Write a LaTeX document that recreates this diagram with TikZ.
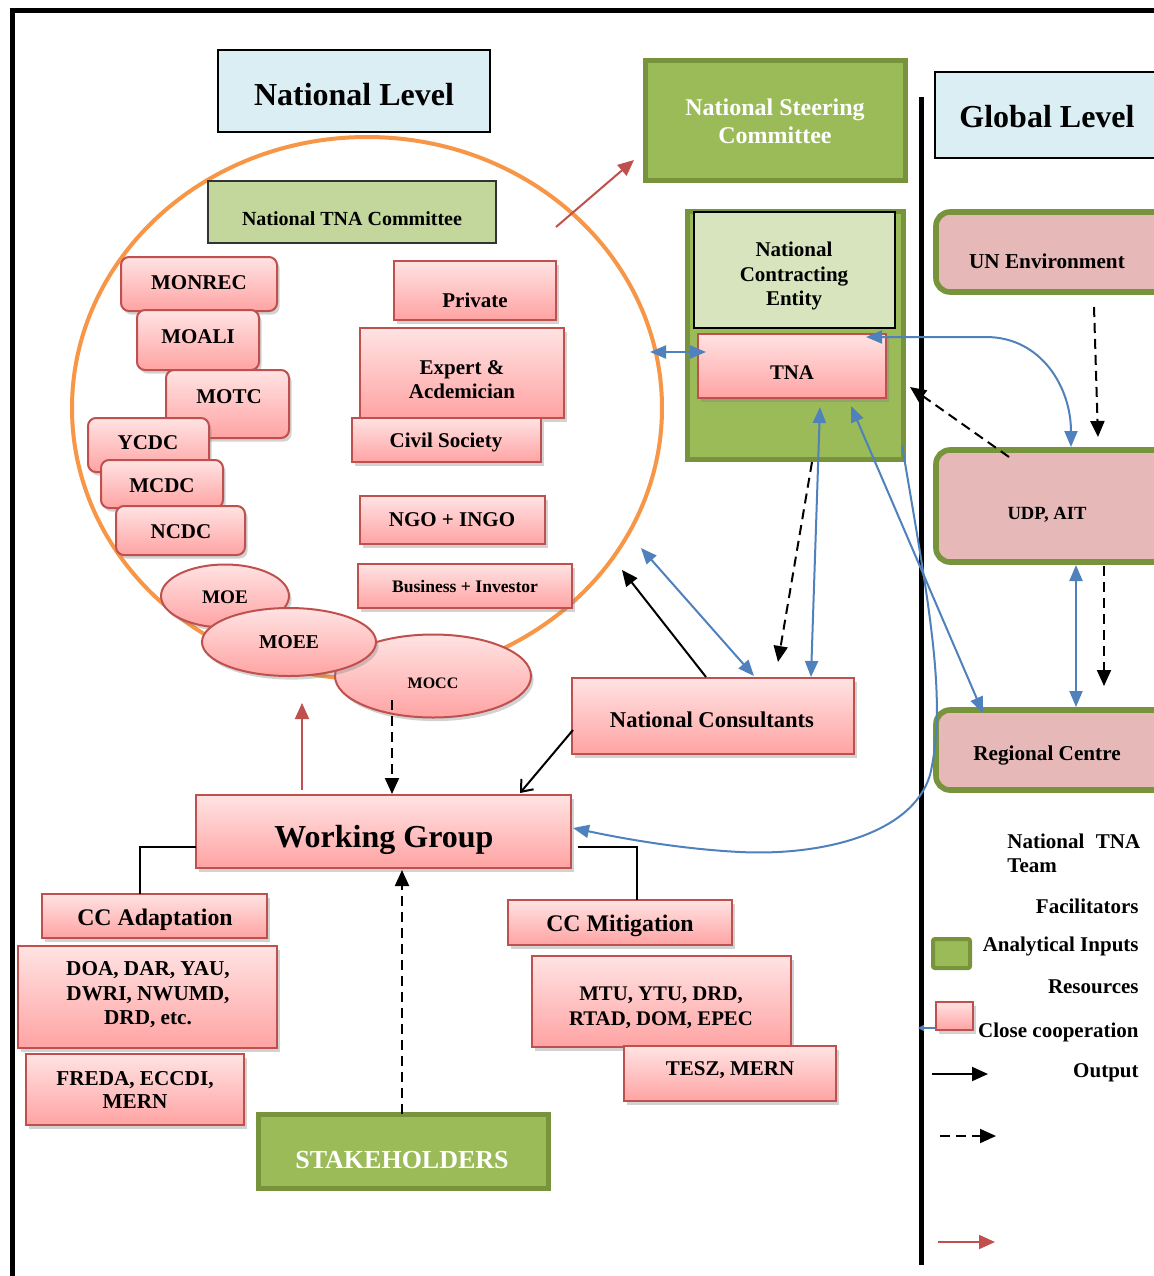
\documentclass[tikz,border=0pt]{standalone}
\usepackage{fontspec}
\setmainfont{Liberation Serif}
\usetikzlibrary{arrows.meta,shapes.geometric,shadows,calc}
\definecolor{pinktop}{HTML}{FFE3E3}
\definecolor{pinkbot}{HTML}{FFA3A3}
\definecolor{pinkline}{HTML}{C0504D}
\definecolor{grfill}{HTML}{9BBB59}
\definecolor{grline}{HTML}{77933C}
\definecolor{grlight}{HTML}{C3D69B}
\definecolor{grpale}{HTML}{D7E4BD}
\definecolor{lblue}{HTML}{DAEEF3}
\definecolor{rosefill}{HTML}{E6B9B8}
\definecolor{orng}{HTML}{F79646}
\definecolor{bluel}{HTML}{4F81BD}
\definecolor{redar}{HTML}{C0504D}
\newcommand\myfs[2]{\fontsize{#1}{#2}\selectfont\bfseries}
\tikzset{
  box/.style={rectangle, inner sep=0pt, outer sep=0pt},
  pinkbox/.style={box, draw=pinkline, line width=1pt, top color=pinktop, bottom color=pinkbot,
    drop shadow={shadow xshift=1.3pt, shadow yshift=-1.8pt, opacity=0.35}},
  pinkround/.style={pinkbox, rounded corners=4pt},
  pinkell/.style={ellipse, inner sep=0pt, outer sep=0pt, draw=pinkline, line width=1pt,
    top color=pinktop, bottom color=pinkbot,
    drop shadow={shadow xshift=1.3pt, shadow yshift=-1.8pt, opacity=0.35}},
  greenbox/.style={box, draw=grline, line width=2.5pt, fill=grfill},
  rosebox/.style={box, draw=grline, line width=2.8pt, fill=rosefill, rounded corners=7pt},
  txt/.style={inner sep=0pt, align=center},
  bluedbl/.style={bluel, line width=1pt, {Triangle[length=8pt,width=6.5pt]}-{Triangle[length=8pt,width=6.5pt]}},
  bluesgl/.style={bluel, line width=1pt, -{Triangle[length=8pt,width=6.5pt]}},
  blackarr/.style={black, line width=1pt, -{Triangle[length=8pt,width=7pt]}},
  dasharr/.style={black, line width=1pt, dash pattern=on 5pt off 3pt, -{Triangle[length=8pt,width=7pt]}},
  redarr/.style={redar, line width=1pt, -{Triangle[length=8pt,width=7pt]}},
}
\begin{document}
\begin{tikzpicture}[x=0.5pt,y=-0.5pt]
\clip (0,0) rectangle (1154,1276);
\fill[white] (0,0) rectangle (1154,1276);
% frame and divider
\draw[line width=2.5pt] (12,1290) -- (12,10) -- (1170,10);
\draw[line width=2.5pt] (921,97) -- (921,1265);

% level titles
\node[box, draw=black, line width=0.6pt, fill=lblue, minimum width=136pt, minimum height=41pt] (natlevel) at (354,91) {};
\node[txt, font=\myfs{16}{19}] (natlevel-t) at (354,95) {National Level};
\node[box, draw=black, line width=0.6pt, fill=lblue, minimum width=117.5pt, minimum height=43pt] (globlevel) at (1052.5,115) {};
\node[txt, font=\myfs{16}{19}] (globlevel-t) at (1047,117) {Global Level};

% steering committee
\node[greenbox, minimum width=130pt, minimum height=60pt] (nsc) at (775,120) {};
\node[txt, text=white, font=\myfs{12}{14}] (nsc-t) at (775,121) {National Steering\\Committee};

% circle
\node[ellipse, draw=orng, line width=2pt, inner sep=0pt, outer sep=0pt, minimum width=295pt, minimum height=271pt] (circ) at (367,408) {};

\node[box, draw=black!80, line width=0.8pt, fill=grlight, minimum width=144pt, minimum height=31pt] (tnacom) at (352,212) {};
\node[txt, font=\myfs{10}{12}] (tnacom-t) at (352,219) {National TNA Committee};

% left rounded boxes
\node[pinkround, minimum width=78pt, minimum height=27pt] (monrec) at (199,284) {};
\node[txt, font=\myfs{10.5}{12}] (monrec-t) at (199,283) {MONREC};
\node[pinkround, minimum width=61pt, minimum height=30pt] (moali) at (198,340) {};
\node[txt, font=\myfs{10.5}{12}] (moali-t) at (198,337) {MOALI};
\node[pinkround, minimum width=61.5pt, minimum height=34pt] (motc) at (227.5,404) {};
\node[txt, font=\myfs{10.5}{12}] (motc-t) at (229,397) {MOTC};
\node[pinkround, minimum width=60.5pt, minimum height=27pt] (ycdc) at (148.5,445) {};
\node[txt, font=\myfs{10.5}{12}] (ycdc-t) at (148,443) {YCDC};
\node[pinkround, minimum width=61pt, minimum height=24pt] (mcdc) at (162,484) {};
\node[txt, font=\myfs{10.5}{12}] (mcdc-t) at (162,486) {MCDC};
\node[pinkround, minimum width=64.5pt, minimum height=24.5pt] (ncdc) at (180.5,530.5) {};
\node[txt, font=\myfs{10.5}{12}] (ncdc-t) at (181,532) {NCDC};

% right rectangles
\node[pinkbox, minimum width=81pt, minimum height=29.5pt] (private) at (475,290.5) {};
\node[txt, font=\myfs{10.5}{12}] (private-t) at (475,300) {Private};
\node[pinkbox, minimum width=102pt, minimum height=45pt] (expert) at (462,373) {};
\node[txt, font=\myfs{10.5}{12}] (expert-t) at (462,380) {Expert \&\\Acdemician};
\node[pinkbox, minimum width=94.5pt, minimum height=22pt] (civil) at (446.5,440) {};
\node[txt, font=\myfs{10.5}{12}] (civil-t) at (446,442) {Civil Society};
\node[pinkbox, minimum width=92.5pt, minimum height=24pt] (ngo) at (452.5,520) {};
\node[txt, font=\myfs{10.5}{12}] (ngo-t) at (452,520) {NGO + INGO};
\node[pinkbox, minimum width=107pt, minimum height=22pt] (business) at (465,586) {};
\node[txt, font=\myfs{8.8}{10}] (business-t) at (465,586) {Business + Investor};

% ellipses
\node[pinkell, minimum width=98pt, minimum height=41.5pt] (mocc) at (433,676) {};
\node[txt, font=\myfs{8}{10}] (mocc-t) at (433,683) {MOCC};
\node[pinkell, minimum width=64pt, minimum height=31.5pt] (moe) at (225,596) {};
\node[txt, font=\myfs{9.6}{11}] (moe-t) at (225,597) {MOE};
\node[pinkell, minimum width=87pt, minimum height=34pt] (moee) at (289,642) {};
\node[txt, font=\myfs{9.8}{11}] (moee-t) at (289,642) {MOEE};

% national contracting entity group
\node[greenbox, minimum width=108pt, minimum height=124pt] (ncegreen) at (795,335) {};
\node[box, draw=black, line width=0.8pt, fill=grpale, minimum width=100.5pt, minimum height=58pt] (nce) at (794.5,270) {};
\node[txt, font=\myfs{10.5}{12.25}] (nce-t) at (794,276) {National\\Contracting\\Entity};
\node[pinkbox, minimum width=94pt, minimum height=32pt] (tna) at (792,366) {};
\node[txt, font=\myfs{10.4}{12}] (tna-t) at (792,373) {TNA};

% global boxes
\node[rosebox, minimum width=119.5pt, minimum height=40pt] (unenv) at (1055.5,252) {};
\node[txt, font=\myfs{10.6}{12}] (unenv-t) at (1047,261) {UN Environment};
\node[rosebox, minimum width=119.5pt, minimum height=56pt] (udp) at (1055.5,506) {};
\node[txt, font=\myfs{9.3}{11}] (udp-t) at (1047,515) {UDP, AIT};
\node[rosebox, minimum width=119.5pt, minimum height=40pt] (regional) at (1055.5,750) {};
\node[txt, font=\myfs{10.6}{12}] (regional-t) at (1047,755) {Regional Centre};

% consultants and working group
\node[pinkbox, minimum width=141pt, minimum height=38pt] (natcons) at (713,716) {};
\node[txt, font=\myfs{11.3}{13}] (natcons-t) at (712,720) {National Consultants};
\node[pinkbox, minimum width=187.5pt, minimum height=36.5pt] (wg) at (383.5,831.5) {};
\node[txt, font=\myfs{16}{19}] (wg-t) at (384,840) {Working Group};

% adaptation side
\node[pinkbox, minimum width=112.5pt, minimum height=22pt] (adapt) at (154.5,916) {};
\node[txt, font=\myfs{11.9}{14}] (adapt-t) at (155,920) {CC Adaptation};
\node[pinkbox, minimum width=129.5pt, minimum height=51pt] (doa) at (147.5,997) {};
\node[txt, font=\myfs{10.6}{12.25}] (doa-t) at (148,995) {DOA, DAR, YAU,\\DWRI, NWUMD,\\DRD, etc.};
\node[pinkbox, minimum width=109pt, minimum height=35.5pt] (freda) at (135,1089.5) {};
\node[txt, font=\myfs{10.6}{11.5}] (freda-t) at (135,1090) {FREDA, ECCDI,\\MERN};

% mitigation side
\node[pinkbox, minimum width=112pt, minimum height=22.5pt] (mitig) at (620,922.5) {};
\node[txt, font=\myfs{11.9}{14}] (mitig-t) at (620,926) {CC Mitigation};
\node[pinkbox, minimum width=129.5pt, minimum height=45.5pt] (mtu) at (661.5,1001.5) {};
\node[txt, font=\myfs{10.4}{12.5}] (mtu-t) at (661,1008) {MTU, YTU, DRD,\\RTAD, DOM, EPEC};
\node[pinkbox, minimum width=106pt, minimum height=27.5pt] (tesz) at (730,1073.5) {};
\node[txt, font=\myfs{10.5}{12}] (tesz-t) at (730,1070) {TESZ, MERN};

% stakeholders
\node[greenbox, minimum width=145pt, minimum height=37pt] (stake) at (403,1151) {};
\node[txt, text=white, font=\myfs{13}{15}] (stake-t) at (402,1160) {STAKEHOLDERS};

% brackets
\draw[line width=1.2pt] ($(wg.west)+(0,15.5)$) -| ($(adapt.north)+(-14.5,0)$);
\draw[line width=1.2pt] ($(wg.east)+(7,15.5)$) -| ($(mitig.north)+(17,0)$);

% free ends
\coordinate (rA) at (302,703);
\coordinate (rB) at (556,227);
\coordinate (cF) at (622,570);
\coordinate (cG) at (641,548);
\coordinate (cH) at (778,662);

% connectors
\draw[redarr] ($(wg.north)+(-81.5,-5)$) -- (rA);
\draw[redarr] (rB) -- ($(nsc.south west)+(-11,-20)$);
\draw[dasharr] ($(mocc.center)+(-41,24)$) -- ($(wg.north)+(8.5,-1)$);
\draw[dasharr] ($(stake.north)+(-1,0)$) -- ($(wg.south)+(18.5,2)$);
\draw[black, line width=1pt, -{Straight Barb[length=5pt,width=8pt]}] ($(natcons.west)+(1,14)$) -- ($(wg.north east)+(-51,-2)$);
\draw[blackarr] ($(natcons.north)+(-7,-1)$) -- (cF);
\draw[bluedbl] (cG) -- ($(natcons.north)+(41,-2)$);
\draw[dasharr] ($(ncegreen.south)+(17,3)$) -- (cH);
\draw[bluedbl] ($(tna.south)+(28,9)$) -- ($(natcons.north)+(98,-1)$);
\draw[bluedbl] ($(circ.east)+(-12,-56)$) -- ($(tna.west)+(8,-14)$);
\draw[bluedbl] ($(tna.north east)+(-20,3)$) -- ++(120,0) .. controls +(55,0) and +(0,-60) .. ($(udp.north)+(15.5,-3)$);
\draw[dasharr] ($(unenv.south)+(38.5,15)$) -- ($(udp.north)+(42.5,-13)$);
\draw[dasharr] ($(udp.north)+(-46.5,7)$) -- ($(tna.east)+(24,21)$);
\draw[bluedbl] ($(udp.south)+(20.5,3)$) -- ($(regional.north)+(20.5,-3)$);
\draw[dasharr] ($(udp.south)+(48.5,4)$) -- ($(regional.north)+(48.5,-24)$);
\draw[bluedbl] ($(tna.south)+(59,8)$) -- ($(regional.north west)+(47,3)$);
\draw[bluesgl] ($(ncegreen.east)+(-1,110)$) .. controls (928,600) and (948,700) .. (930,775)
   .. controls (912,835) and (820,856) .. (740,852)
   .. controls (680,849) and (620,838) .. ($(wg.east)+(2,-3.5)$);

% legend
\node[txt, anchor=west, align=left, font=\myfs{10.5}{12}] (lg1) at (1007,853) {National\hspace{0.55em}TNA\\Team};
\node[txt, anchor=east, font=\myfs{10.5}{12}] (lg2) at (1139,906) {Facilitators};
\node[box, draw=grline, line width=2pt, fill=grfill, rounded corners=1pt, minimum width=18.5pt, minimum height=14.5pt] (leggreen) at (951.5,953.5) {};
\node[txt, anchor=east, font=\myfs{10.5}{12}] (lg3) at (1139,946) {Analytical Inputs};
\node[txt, anchor=east, font=\myfs{10.5}{12}] (lg4) at (1139,987) {Resources};
\coordinate (lb1) at (918,1028);
\coordinate (lb2) at (962,1028);
\draw[bluel, line width=0.8pt, {Triangle[length=3pt,width=3pt]}-{Triangle[length=3pt,width=3pt]}] (lb1) -- (lb2);
\node[pinkbox, minimum width=18.5pt, minimum height=14pt] (legpink) at (954.5,1016) {};
\node[txt, anchor=east, font=\myfs{10.5}{12}] (lg5) at (1139,1032) {Close cooperation};
\node[txt, anchor=east, font=\myfs{10.5}{12}] (lg6) at (1139,1073) {Output};
\coordinate (lo1) at (932,1074);
\coordinate (lo2) at (988,1074);
\draw[blackarr] (lo1) -- (lo2);
\coordinate (ld1) at (940,1136);
\coordinate (ld2) at (996,1136);
\draw[dasharr] (ld1) -- (ld2);
\coordinate (lr1) at (938,1242);
\coordinate (lr2) at (995,1242);
\draw[redarr] (lr1) -- (lr2);
\end{tikzpicture}
\end{document}
